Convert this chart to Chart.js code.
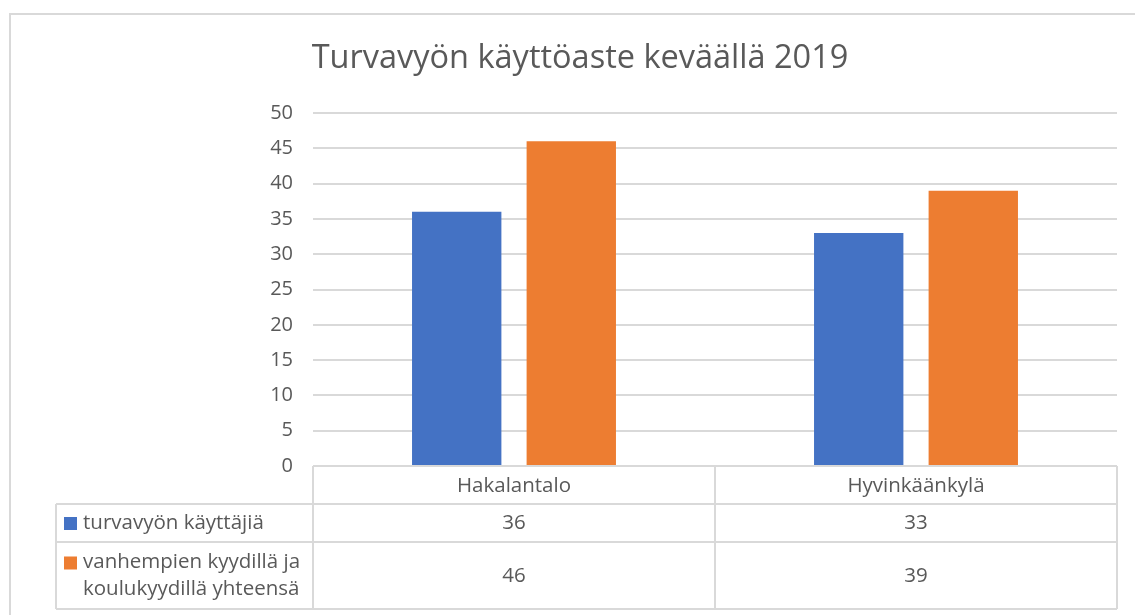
<!DOCTYPE html>
<html>
<head>
<meta charset="utf-8">
<script src="https://cdn.jsdelivr.net/npm/chart.js@4/dist/chart.umd.min.js"></script>
<style>
  html, body { margin: 0; padding: 0; background: #ffffff; }
  #wrap { width: 1135px; height: 615px; position: relative; }
</style>
</head>
<body>
<div id="wrap"><canvas id="seatbeltChart"></canvas></div>
<script>
const chartTitle = "Turvavyön käyttöaste keväällä 2019";
const categories = ["Hakalantalo", "Hyvinkäänkylä"];
const seriesLabels = ["turvavyön käyttäjiä", "vanhempien kyydillä ja koulukyydillä yhteensä"];
const seriesLabelLines = [["turvavyön käyttäjiä"], ["vanhempien kyydillä ja", "koulukyydillä yhteensä"]];
const beltUsers = [36, 33];
const parentAndSchoolRides = [46, 39];
const yMin = 0;
const yMax = 50;
const yStep = 5;

const colors = ["#4472C4", "#ED7D31"];
const seriesValues = [beltUsers, parentAndSchoolRides];
const textColor = "#595959";
const lineColor = "#d9d9d9";
const fontFamily = "'Open Sans', 'Noto Sans', sans-serif";

// Draws the outer frame, the title and the data table under the plot
const tablePlugin = {
  id: "dataTable",
  afterDraw(chart) {
    const ctx = chart.ctx;
    const area = chart.chartArea;
    const x = chart.scales.x;

    ctx.save();
    ctx.strokeStyle = lineColor;
    ctx.lineWidth = 2;
    ctx.strokeRect(10, 14, 1140, 620);

    // title
    ctx.fillStyle = textColor;
    ctx.font = "32.5px " + fontFamily;
    ctx.textAlign = "center";
    ctx.textBaseline = "middle";
    ctx.fillText(chartTitle, 580, 59);

    // table geometry
    const top = area.bottom;
    const rowTops = [top, top + 38, top + 76];
    const bottom = top + 143;
    const labelLeft = 56;
    const half = (x.getPixelForValue(1) - x.getPixelForValue(0)) / 2;
    const bounds = [area.left];
    categories.forEach((c, i) => bounds.push(x.getPixelForValue(i) + half));

    ctx.lineWidth = 2;
    ctx.beginPath();
    ctx.moveTo(area.left, top); ctx.lineTo(area.right, top);
    [rowTops[1], rowTops[2], bottom].forEach((y) => {
      ctx.moveTo(labelLeft, y); ctx.lineTo(area.right, y);
    });
    bounds.forEach((bx) => { ctx.moveTo(bx, top); ctx.lineTo(bx, bottom); });
    ctx.moveTo(labelLeft, rowTops[1]); ctx.lineTo(labelLeft, bottom);
    ctx.stroke();

    // header row with category names
    ctx.font = "20.5px " + fontFamily;
    ctx.fillStyle = textColor;
    categories.forEach((c, i) => {
      ctx.fillText(c, x.getPixelForValue(i), top + 20);
    });

    // series rows: legend key, label and values
    const rowMid = [rowTops[1] + 19, rowTops[2] + 34];
    seriesLabelLines.forEach((lines, s) => {
      const mid = rowMid[s];
      const firstLineY = mid - (lines.length - 1) * 13.5;
      ctx.fillStyle = colors[s];
      ctx.fillRect(64, firstLineY - 6, 13, 13);
      ctx.fillStyle = textColor;
      ctx.textAlign = "left";
      lines.forEach((line, k) => {
        ctx.fillText(line, 83, firstLineY + k * 27);
      });
      ctx.textAlign = "center";
      seriesValues[s].forEach((v, i) => {
        ctx.fillText(String(v), x.getPixelForValue(i), mid);
      });
    });
    ctx.restore();
  }
};

new Chart(document.getElementById("seatbeltChart"), {
  type: "bar",
  data: {
    labels: categories,
    datasets: seriesLabels.map((label, s) => ({
      label: label,
      data: seriesValues[s],
      backgroundColor: colors[s],
      borderWidth: 0,
      categoryPercentage: 0.57,
      barPercentage: 0.78,
    })),
  },
  options: {
    responsive: true,
    maintainAspectRatio: false,
    animation: false,
    layout: { padding: { left: 10, right: 18, top: 113, bottom: 149 } },
    plugins: {
      legend: { display: false },
      title: { display: false },
      tooltip: { enabled: false },
    },
    scales: {
      x: { display: false },
      y: {
        min: yMin,
        max: yMax,
        ticks: {
          stepSize: yStep,
          color: textColor,
          padding: 20,
          font: { family: fontFamily, size: 20 },
        },
        grid: { color: lineColor, lineWidth: 2, drawTicks: false },
        border: { display: false },
        afterFit: (scale) => { scale.width = 303; },
      },
    },
  },
  plugins: [tablePlugin],
});
</script>
</body>
</html>
